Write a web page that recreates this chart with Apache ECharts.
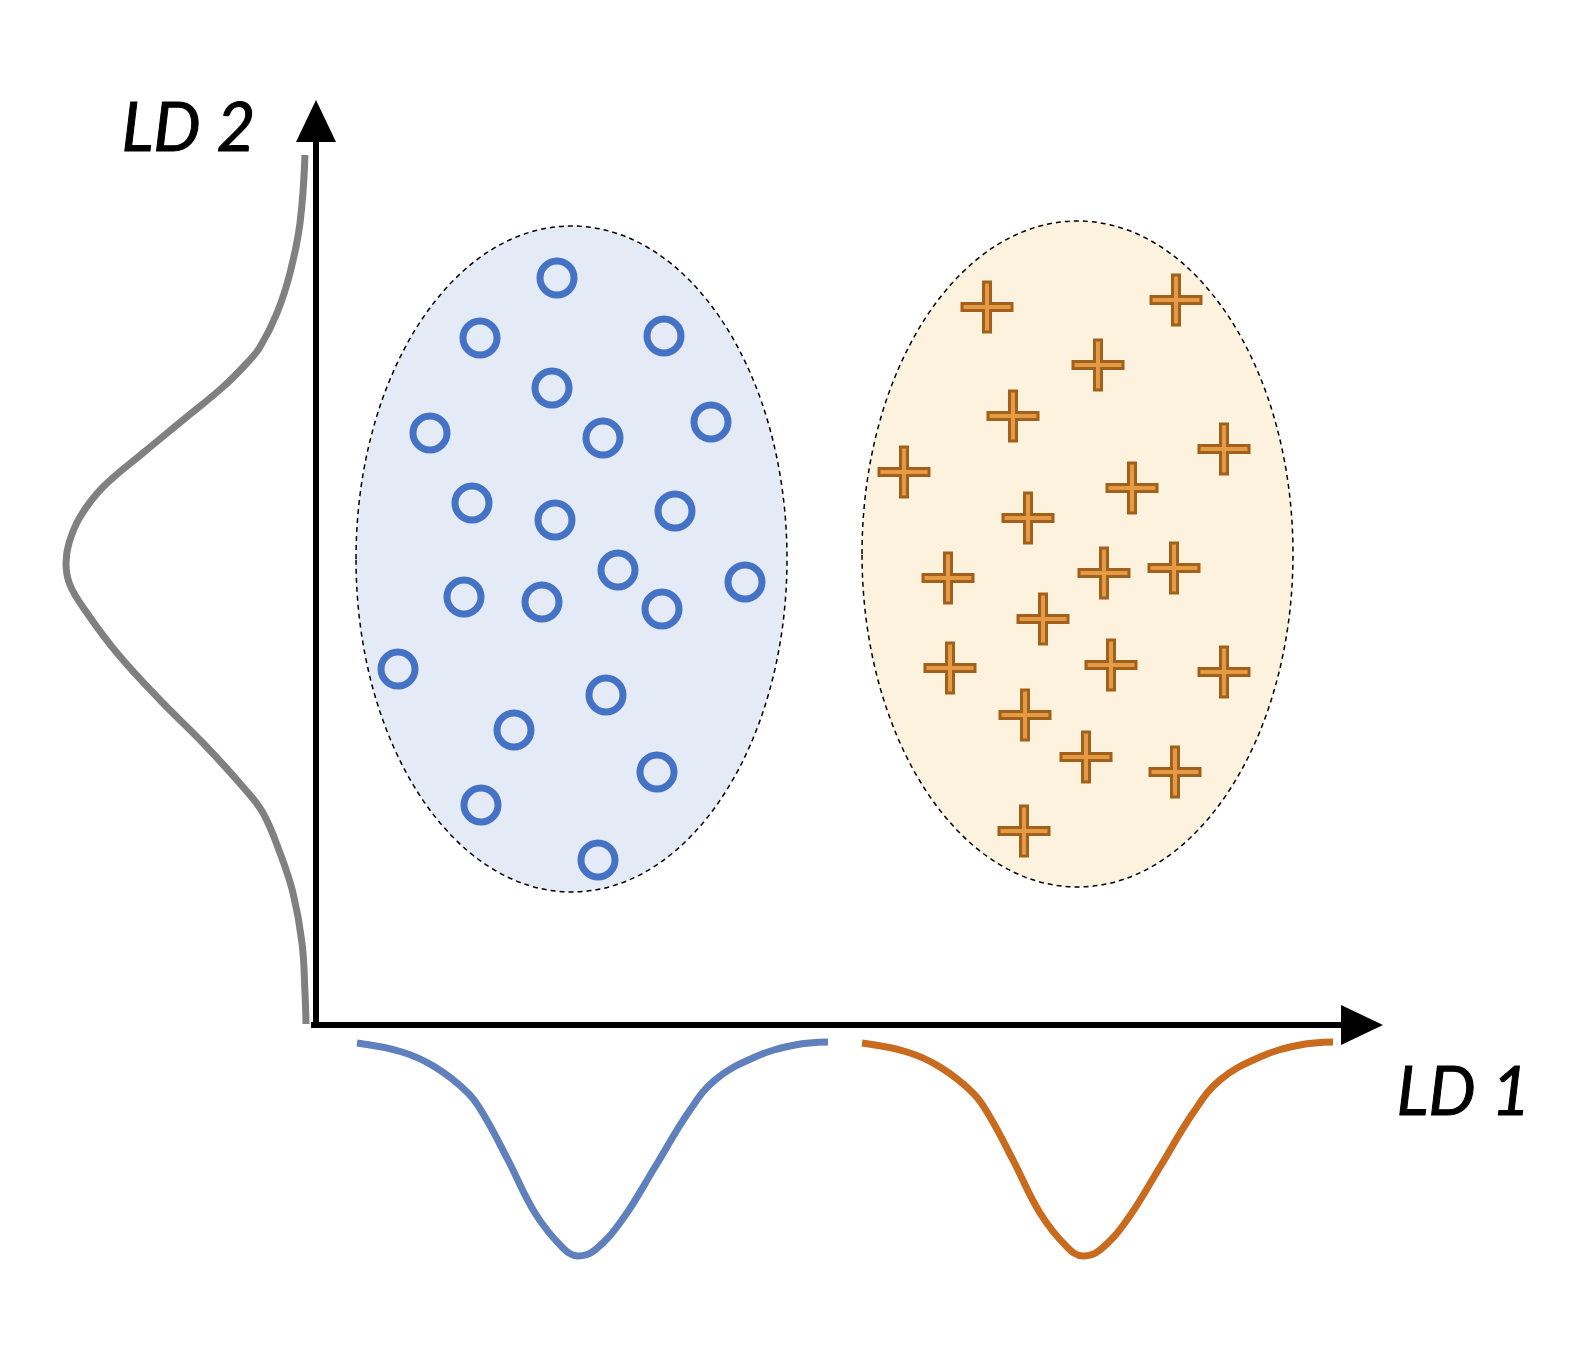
<!DOCTYPE html>
<html style="height: 100%">
<head>
    <meta charset="utf-8">
    <title>LD1 / LD2</title>
</head>
<body style="height: 100%; margin: 0; background: #fff">
    <div id="container" style="width: 1572px; height: 1356px"></div>
    <script type="text/javascript" src="https://cdn.jsdelivr.net/npm/echarts@6/dist/echarts.min.js"></script>
    <script type="text/javascript">
        // class 1 (circles) and class 2 (crosses), LD1 / LD2 units
        var circlePoints = [
            [241, 747], [164, 687], [348, 689], [236, 637], [114, 592],
            [287, 587], [395, 603], [156, 522], [239, 505], [359, 514],
            [302, 455], [148, 428], [226, 423], [346, 416], [429, 443],
            [82, 356], [290, 330], [198, 295], [341, 253], [165, 220],
            [282, 165]
        ];
        var crossPoints = [
            [671, 718], [860, 725], [782, 660], [697, 609], [908, 576],
            [588, 553], [816, 537], [712, 507], [632, 447], [788, 452],
            [858, 457], [727, 406], [634, 357], [795, 360], [908, 353],
            [709, 310], [770, 268], [859, 253], [708, 194]
        ];
        // cluster ellipses: centre x, centre y, radius x, radius y
        var clusters = [
            [255.5, 466, 215.5, 333],
            [761.5, 471, 215.5, 333]
        ];
        // projected densities
        var ld2Density = [
            [-11, 870], [-16, 802], [-26, 752], [-39, 712], [-56, 678],
            [-69, 662], [-93, 638], [-133, 605], [-173, 572], [-213, 538],
            [-236, 508], [-247, 482], [-250, 462], [-246, 440], [-229, 412],
            [-199, 372], [-156, 325], [-113, 282], [-73, 238], [-53, 212],
            [-36, 172], [-23, 132], [-14, 82], [-11, 32], [-10, 1]
        ];
        var ld1DensityA = [
            [41, -18], [86, -27], [119, -42], [152, -68], [169, -92],
            [192, -135], [219, -188], [246, -222], [262, -231], [279, -225],
            [306, -195], [339, -142], [372, -88], [399, -55], [439, -32],
            [479, -20], [512, -17]
        ];
        var ld1DensityB = [
            [546, -18], [591, -27], [624, -42], [657, -68], [674, -92],
            [697, -135], [724, -188], [751, -222], [767, -231], [784, -225],
            [811, -195], [844, -142], [877, -88], [904, -55], [944, -32],
            [984, -20], [1017, -17]
        ];
        // axes: shafts and arrow heads
        var yAxisShaft = [[0, 0], [0, 885]];
        var xAxisShaft = [[-2, 0], [1030, 0]];
        var yArrow = [[0, 904]];
        var xArrow = [[1046, 0]];
        var axisNames = ['LD 1', 'LD 2'];

        var clusterFill = ['#E4EAF6', '#FCF2DD'];

        var dom = document.getElementById("container");
        var myChart = echarts.init(dom);

        var option = {
            animation: false,
            backgroundColor: '#ffffff',
            grid: { left: 0, right: 0, top: 0, bottom: 0 },
            xAxis: { type: 'value', min: -316, max: 1256, show: false },
            yAxis: { type: 'value', min: -331, max: 1025, show: false },
            graphic: [{
                type: 'text',
                left: 121,
                top: 95,
                style: {
                    text: axisNames[1],
                    font: 'italic 67px Lato',
                    fill: '#000',
                    stroke: '#000',
                    lineWidth: 1
                }
            }, {
                type: 'text',
                left: 1396,
                top: 1059,
                style: {
                    text: axisNames[0],
                    font: 'italic 67px Lato',
                    fill: '#000',
                    stroke: '#000',
                    lineWidth: 1
                }
            }],
            series: [{
                type: 'custom',
                z: 1,
                data: clusters,
                renderItem: function (params, api) {
                    var c = api.coord([api.value(0), api.value(1)]);
                    var s = api.size([api.value(2), api.value(3)]);
                    return {
                        type: 'ellipse',
                        shape: { cx: c[0], cy: c[1], rx: s[0], ry: s[1] },
                        style: {
                            fill: clusterFill[params.dataIndex],
                            stroke: '#000',
                            lineWidth: 1.5,
                            lineDash: [5, 4]
                        }
                    };
                }
            }, {
                type: 'scatter',
                z: 3,
                data: circlePoints,
                symbol: 'circle',
                symbolSize: 34,
                itemStyle: {
                    color: 'rgba(0,0,0,0)',
                    borderColor: '#4472C4',
                    borderWidth: 7,
                    opacity: 1
                }
            }, {
                type: 'scatter',
                z: 3,
                data: crossPoints,
                symbol: 'path://M21.5,0H28.5V21.5H50V28.5H28.5V50H21.5V28.5H0V21.5H21.5Z',
                symbolSize: 50,
                itemStyle: {
                    color: '#E59A45',
                    borderColor: '#A1601C',
                    borderWidth: 3,
                    opacity: 1
                }
            }, {
                type: 'line',
                z: 2,
                data: ld2Density,
                smooth: 0.4,
                showSymbol: false,
                lineStyle: { color: '#808080', width: 7 }
            }, {
                type: 'line',
                z: 2,
                data: ld1DensityA,
                smooth: 0.4,
                showSymbol: false,
                lineStyle: { color: '#5F80BD', width: 7 }
            }, {
                type: 'line',
                z: 2,
                data: ld1DensityB,
                smooth: 0.4,
                showSymbol: false,
                lineStyle: { color: '#C96B1E', width: 7 }
            }, {
                type: 'line',
                z: 4,
                data: yAxisShaft,
                showSymbol: false,
                lineStyle: { color: '#000', width: 6, cap: 'square' }
            }, {
                type: 'line',
                z: 4,
                data: xAxisShaft,
                showSymbol: false,
                lineStyle: { color: '#000', width: 6, cap: 'square' }
            }, {
                type: 'scatter',
                z: 4,
                data: yArrow,
                symbol: 'path://M5,0L10,10L0,10Z',
                symbolSize: [40, 42],
                itemStyle: { color: '#000', opacity: 1 }
            }, {
                type: 'scatter',
                z: 4,
                data: xArrow,
                symbol: 'path://M0,0L10,5L0,10Z',
                symbolSize: [42, 40],
                itemStyle: { color: '#000', opacity: 1 }
            }]
        };
        myChart.setOption(option, true);
    </script>
</body>
</html>
